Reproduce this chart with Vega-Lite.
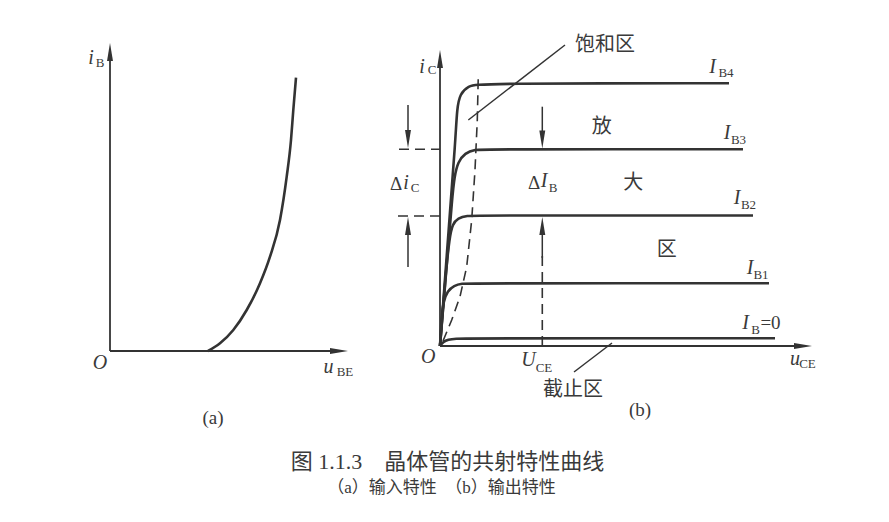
{
  "$schema": "https://vega.github.io/schema/vega-lite/v6.json",
  "width": 889,
  "height": 522,
  "padding": 0,
  "autosize": {"type": "fit", "contains": "padding"},
  "background": "white",
  "config": {"view": {"stroke": null}},
  "datasets": {
    "curves": [
      {"id": "a_input", "o": 0, "x": 208, "y": 171},
      {"id": "a_input", "o": 1, "x": 220, "y": 178.7},
      {"id": "a_input", "o": 2, "x": 233.3, "y": 192},
      {"id": "a_input", "o": 3, "x": 246.7, "y": 212},
      {"id": "a_input", "o": 4, "x": 260, "y": 238.7},
      {"id": "a_input", "o": 5, "x": 270, "y": 265.3},
      {"id": "a_input", "o": 6, "x": 280, "y": 302},
      {"id": "a_input", "o": 7, "x": 286.7, "y": 345.3},
      {"id": "a_input", "o": 8, "x": 291, "y": 382},
      {"id": "a_input", "o": 9, "x": 293.3, "y": 412},
      {"id": "a_input", "o": 10, "x": 296, "y": 444.3},
      {"id": "IB4", "o": 0, "x": 440, "y": 176},
      {"id": "IB4", "o": 1, "x": 449, "y": 297},
      {"id": "IB4", "o": 2, "x": 455.5, "y": 382},
      {"id": "IB4", "o": 3, "x": 457, "y": 414},
      {"id": "IB4", "o": 4, "x": 460, "y": 428},
      {"id": "IB4", "o": 5, "x": 468, "y": 436},
      {"id": "IB4", "o": 6, "x": 480, "y": 438.7},
      {"id": "IB4", "o": 7, "x": 729, "y": 438.7},
      {"id": "IB3", "o": 0, "x": 440, "y": 176},
      {"id": "IB3", "o": 1, "x": 448, "y": 272},
      {"id": "IB3", "o": 2, "x": 452, "y": 322},
      {"id": "IB3", "o": 3, "x": 454.5, "y": 346},
      {"id": "IB3", "o": 4, "x": 458, "y": 360},
      {"id": "IB3", "o": 5, "x": 465, "y": 369},
      {"id": "IB3", "o": 6, "x": 475, "y": 372.5},
      {"id": "IB3", "o": 7, "x": 486, "y": 372.7},
      {"id": "IB3", "o": 8, "x": 743, "y": 372.7},
      {"id": "IB2", "o": 0, "x": 440, "y": 176},
      {"id": "IB2", "o": 1, "x": 446, "y": 252},
      {"id": "IB2", "o": 2, "x": 449.5, "y": 284},
      {"id": "IB2", "o": 3, "x": 452.5, "y": 298},
      {"id": "IB2", "o": 4, "x": 458, "y": 304},
      {"id": "IB2", "o": 5, "x": 467, "y": 306.3},
      {"id": "IB2", "o": 6, "x": 478, "y": 306.5},
      {"id": "IB2", "o": 7, "x": 753, "y": 306.5},
      {"id": "IB1", "o": 0, "x": 440, "y": 176},
      {"id": "IB1", "o": 1, "x": 441.5, "y": 204},
      {"id": "IB1", "o": 2, "x": 443.5, "y": 221},
      {"id": "IB1", "o": 3, "x": 447.5, "y": 231},
      {"id": "IB1", "o": 4, "x": 454, "y": 236.5},
      {"id": "IB1", "o": 5, "x": 462, "y": 238.5},
      {"id": "IB1", "o": 6, "x": 471, "y": 238.7},
      {"id": "IB1", "o": 7, "x": 769, "y": 238.7},
      {"id": "IB0", "o": 0, "x": 440, "y": 176},
      {"id": "IB0", "o": 1, "x": 443, "y": 180},
      {"id": "IB0", "o": 2, "x": 448, "y": 182.4},
      {"id": "IB0", "o": 3, "x": 456, "y": 183.4},
      {"id": "IB0", "o": 4, "x": 466, "y": 183.7},
      {"id": "IB0", "o": 5, "x": 775, "y": 183.7}
    ],
    "saturation": [
      {"o": 0, "x": 443, "y": 181},
      {"o": 1, "x": 451.7, "y": 202},
      {"o": 2, "x": 460, "y": 225.3},
      {"o": 3, "x": 466.7, "y": 255.3},
      {"o": 4, "x": 471.7, "y": 302},
      {"o": 5, "x": 475, "y": 352},
      {"o": 6, "x": 477.3, "y": 402},
      {"o": 7, "x": 478.3, "y": 447}
    ],
    "segments": [
      {"kind": "axis", "x": 110, "y": 171, "x2": 110, "y2": 470},
      {"kind": "axis", "x": 110, "y": 171, "x2": 340, "y2": 171},
      {"kind": "axis", "x": 440, "y": 176, "x2": 440, "y2": 464},
      {"kind": "axis", "x": 440, "y": 176, "x2": 804, "y2": 176},
      {"kind": "dash", "x": 542.3, "y": 176, "x2": 542.3, "y2": 267},
      {"kind": "dash", "x": 399, "y": 372.7, "x2": 440, "y2": 372.7},
      {"kind": "dash", "x": 398, "y": 306, "x2": 440, "y2": 306},
      {"kind": "shaft", "x": 542.3, "y": 264, "x2": 542.3, "y2": 295},
      {"kind": "shaft", "x": 542.3, "y": 415.3, "x2": 542.3, "y2": 385},
      {"kind": "shaft", "x": 408, "y": 417, "x2": 408, "y2": 385},
      {"kind": "shaft", "x": 408, "y": 255, "x2": 408, "y2": 295},
      {"kind": "leader", "x": 468.3, "y": 402, "x2": 565, "y2": 477},
      {"kind": "leader", "x": 574, "y": 150, "x2": 612, "y2": 179}
    ],
    "heads": [
      {"dir": "up", "x": 110, "y": 479},
      {"dir": "right", "x": 348, "y": 171},
      {"dir": "up", "x": 440, "y": 472},
      {"dir": "right", "x": 812, "y": 176},
      {"dir": "up", "x": 542.3, "y": 305},
      {"dir": "down", "x": 542.3, "y": 373.5},
      {"dir": "down", "x": 408, "y": 374},
      {"dir": "up", "x": 408, "y": 305}
    ],
    "labels": [
      {"r": "var", "t": "i", "x": 91, "y": 464},
      {"r": "var", "t": "O", "x": 100, "y": 159},
      {"r": "var", "t": "u", "x": 328.5, "y": 155},
      {"r": "var", "t": "i", "x": 422, "y": 455.3},
      {"r": "var", "t": "I", "x": 712.5, "y": 455},
      {"r": "var", "t": "I", "x": 727, "y": 389},
      {"r": "var", "t": "i", "x": 406, "y": 339},
      {"r": "var", "t": "I", "x": 544, "y": 341},
      {"r": "var", "t": "I", "x": 737, "y": 324},
      {"r": "var", "t": "I", "x": 750, "y": 254},
      {"r": "var", "t": "I", "x": 745.5, "y": 199},
      {"r": "var", "t": "O", "x": 428.3, "y": 165.3},
      {"r": "var", "t": "U", "x": 528.5, "y": 162},
      {"r": "var", "t": "u", "x": 795, "y": 163},
      {"r": "sub", "t": "B", "x": 100, "y": 459},
      {"r": "sub", "t": "BE", "x": 345, "y": 150.3},
      {"r": "sub", "t": "C", "x": 432, "y": 452},
      {"r": "sub", "t": "B4", "x": 726, "y": 449},
      {"r": "sub", "t": "B3", "x": 738.5, "y": 382},
      {"r": "sub", "t": "C", "x": 415, "y": 334},
      {"r": "sub", "t": "B", "x": 553, "y": 334},
      {"r": "sub", "t": "B2", "x": 748.5, "y": 317},
      {"r": "sub", "t": "B1", "x": 761, "y": 247},
      {"r": "sub", "t": "B", "x": 755.5, "y": 192},
      {"r": "sub", "t": "CE", "x": 544, "y": 154},
      {"r": "sub", "t": "CE", "x": 807.5, "y": 158},
      {"r": "sym", "t": "Δ", "x": 396, "y": 338.5},
      {"r": "sym", "t": "Δ", "x": 534, "y": 339},
      {"r": "sym", "t": "=0", "x": 770.5, "y": 199},
      {"r": "sym", "t": "(a)", "x": 213, "y": 104},
      {"r": "sym", "t": "(b)", "x": 640, "y": 112},
      {"r": "cjk", "t": "饱和区", "x": 605, "y": 477},
      {"r": "cjk", "t": "放", "x": 601.7, "y": 395.3},
      {"r": "cjk", "t": "大", "x": 633.3, "y": 338.7},
      {"r": "cjk", "t": "区", "x": 666.7, "y": 272},
      {"r": "cjk", "t": "截止区", "x": 573, "y": 132},
      {"r": "title", "t": "图 1.1.3　晶体管的共射特性曲线", "x": 447.5, "y": 60.3},
      {"r": "subtitle", "t": "（a）输入特性　（b）输出特性", "x": 441.5, "y": 34}
    ]
  },
  "encoding": {
    "x": {"field": "x", "type": "quantitative", "scale": {"domain": [0, 889], "nice": false, "zero": false}, "axis": null},
    "y": {"field": "y", "type": "quantitative", "scale": {"domain": [0, 522], "nice": false, "zero": false}, "axis": null}
  },
  "layer": [
    {
      "data": {"name": "segments"},
      "transform": [{"filter": "datum.kind === 'axis'"}],
      "mark": {"type": "rule", "color": "#333333", "strokeWidth": 1.8},
      "encoding": {"x2": {"field": "x2"}, "y2": {"field": "y2"}}
    },
    {
      "data": {"name": "segments"},
      "transform": [{"filter": "datum.kind === 'dash'"}],
      "mark": {"type": "rule", "color": "#333333", "strokeWidth": 1.6, "strokeDash": [10, 6]},
      "encoding": {"x2": {"field": "x2"}, "y2": {"field": "y2"}}
    },
    {
      "data": {"name": "segments"},
      "transform": [{"filter": "datum.kind === 'shaft' || datum.kind === 'leader'"}],
      "mark": {"type": "rule", "color": "#333333", "strokeWidth": 1.5},
      "encoding": {"x2": {"field": "x2"}, "y2": {"field": "y2"}}
    },
    {
      "data": {"name": "saturation"},
      "mark": {"type": "line", "color": "#333333", "strokeWidth": 1.6, "strokeDash": [10, 6]},
      "encoding": {"order": {"field": "o", "type": "quantitative"}}
    },
    {
      "data": {"name": "curves"},
      "transform": [{"filter": "datum.id === 'a_input'"}],
      "mark": {"type": "line", "color": "#333333", "strokeWidth": 2.6, "interpolate": "monotone"},
      "encoding": {"order": {"field": "o", "type": "quantitative"}}
    },
    {
      "data": {"name": "curves"},
      "transform": [{"filter": "datum.id !== 'a_input'"}],
      "mark": {"type": "line", "color": "#333333", "strokeWidth": 2.6, "interpolate": "basis"},
      "encoding": {"detail": {"field": "id"}, "order": {"field": "o", "type": "quantitative"}}
    },
    {
      "data": {"name": "heads"},
      "transform": [{"filter": "datum.dir === 'up'"}],
      "mark": {"type": "point", "shape": "M0,0L0.33,2L-0.33,2Z", "filled": true, "size": 324, "color": "#333333", "opacity": 1, "angle": 0}
    },
    {
      "data": {"name": "heads"},
      "transform": [{"filter": "datum.dir === 'right'"}],
      "mark": {"type": "point", "shape": "M0,0L0.33,2L-0.33,2Z", "filled": true, "size": 324, "color": "#333333", "opacity": 1, "angle": 90}
    },
    {
      "data": {"name": "heads"},
      "transform": [{"filter": "datum.dir === 'down'"}],
      "mark": {"type": "point", "shape": "M0,0L0.33,2L-0.33,2Z", "filled": true, "size": 324, "color": "#333333", "opacity": 1, "angle": 180}
    },
    {
      "data": {"name": "labels"},
      "transform": [{"filter": "datum.r === 'var'"}],
      "mark": {"type": "text", "font": "Liberation Serif", "fontStyle": "italic", "fontSize": 20, "color": "#3a3a3a", "align": "center", "baseline": "middle"},
      "encoding": {"text": {"field": "t"}}
    },
    {
      "data": {"name": "labels"},
      "transform": [{"filter": "datum.r === 'sub'"}],
      "mark": {"type": "text", "font": "Liberation Serif", "fontSize": 13, "color": "#3a3a3a", "align": "center", "baseline": "middle"},
      "encoding": {"text": {"field": "t"}}
    },
    {
      "data": {"name": "labels"},
      "transform": [{"filter": "datum.r === 'sym'"}],
      "mark": {"type": "text", "font": "Liberation Serif", "fontSize": 19, "color": "#3a3a3a", "align": "center", "baseline": "middle"},
      "encoding": {"text": {"field": "t"}}
    },
    {
      "data": {"name": "labels"},
      "transform": [{"filter": "datum.r === 'cjk'"}],
      "mark": {"type": "text", "font": "Noto Sans CJK SC", "fontSize": 20, "color": "#3a3a3a", "align": "center", "baseline": "middle"},
      "encoding": {"text": {"field": "t"}}
    },
    {
      "data": {"name": "labels"},
      "transform": [{"filter": "datum.r === 'title'"}],
      "mark": {"type": "text", "font": "Liberation Serif, Noto Sans CJK SC", "fontSize": 22, "color": "#3a3a3a", "align": "center", "baseline": "middle"},
      "encoding": {"text": {"field": "t"}}
    },
    {
      "data": {"name": "labels"},
      "transform": [{"filter": "datum.r === 'subtitle'"}],
      "mark": {"type": "text", "font": "Liberation Serif, Noto Sans CJK SC", "fontSize": 17, "color": "#3a3a3a", "align": "center", "baseline": "middle"},
      "encoding": {"text": {"field": "t"}}
    }
  ]
}
